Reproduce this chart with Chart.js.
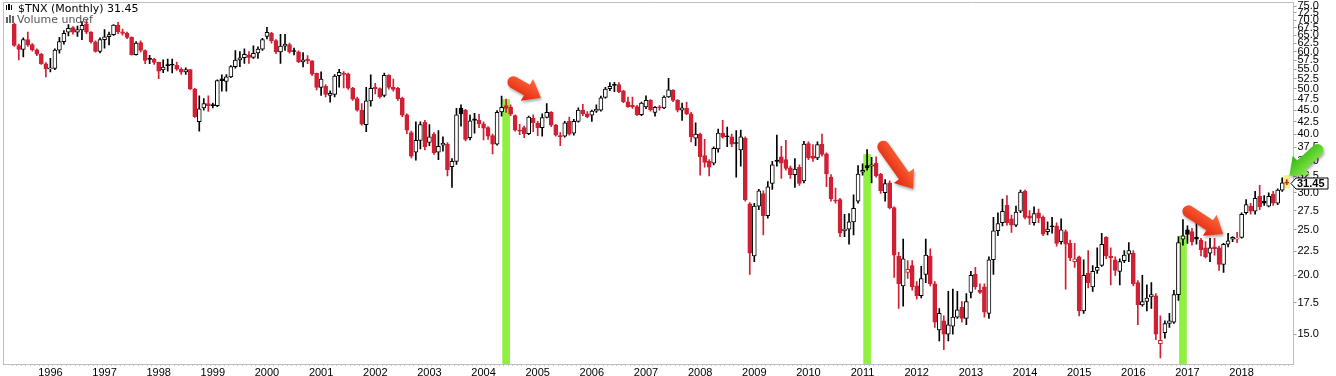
<!DOCTYPE html>
<html>
<head>
<meta charset="utf-8">
<script src="https://cdn.jsdelivr.net/npm/chart.js@4.4.0/dist/chart.umd.min.js"></script>
<style>
  html, body { margin: 0; padding: 0; background: #fff; }
  #wrap { width: 1336px; height: 376px; }
</style>
</head>
<body>
<div id="wrap"><canvas id="myChart"></canvas></div>
<script>
// $TNX monthly candles, May 1995 .. Nov 2018 (yield x10)
const startYear = 1995;
const startMonth = 4; // May

const opens = [
  68.6, 61.8, 60.6, 63.6, 62.1, 60.5, 59.2, 56.5,
  55.1, 55.2, 60.4, 63.0, 66.0, 67.5, 66.0, 66.7, 68.7, 66.0, 62.9, 60.0,
  63.6, 64.5, 65.2, 68.3, 66.1, 65.6, 64.3, 59.1, 62.7, 60.3, 58.0, 57.8,
  56.9, 54.8, 56.3, 56.2, 56.1, 55.0, 54.3, 54.9, 49.9, 42.5, 45.5, 46.5,
  46.2, 46.0, 52.5, 51.8, 53.0, 55.7, 57.6, 58.2, 59.0, 58.3, 59.6, 60.7,
  64.6, 65.6, 63.3, 59.9, 61.6, 62.1, 60.1, 59.9, 57.0, 57.8, 57.3, 53.9,
  50.3, 50.6, 48.4, 48.6, 53.3, 54.0, 53.8, 50.1, 47.6, 45.0, 41.9, 47.1,
  50.4, 50.0, 48.4, 53.4, 50.3, 50.1, 47.7, 44.0, 40.3, 36.6, 38.8, 42.4,
  38.4, 40.0, 36.6, 37.9, 38.1, 34.1, 35.0, 45.4, 45.0, 39.3, 43.1, 42.8,
  42.1, 41.3, 39.7, 38.1, 44.6, 46.0, 45.6, 43.8, 40.8, 41.3, 40.1, 43.3,
  42.2, 41.3, 43.4, 44.5, 41.8, 39.7, 39.6, 42.6, 40.2, 42.6, 45.0, 44.2,
  43.9, 44.8, 45.0, 47.9, 50.0, 50.9, 51.0, 49.5, 46.9, 46.1, 45.8, 44.0,
  45.7, 47.2, 44.5, 45.7, 45.5, 48.0, 49.6, 47.2, 45.0, 45.4, 44.2, 39.2,
  40.0, 36.0, 35.0, 34.7, 37.2, 40.2, 39.6, 39.5, 38.3, 37.0, 39.2, 28.4,
  22.0, 28.1, 29.9, 26.8, 31.4, 35.2, 35.8, 35.3, 33.9, 32.8, 34.0, 31.8,
  38.2, 35.9, 35.6, 38.1, 36.3, 32.4, 28.9, 29.0, 24.9, 25.1, 26.0, 28.8,
  33.2, 34.3, 34.2, 34.7, 32.9, 30.0, 31.5, 27.9, 22.0, 19.0, 20.3, 21.0,
  19.0, 18.1, 20.1, 22.0, 19.2, 15.3, 16.0, 15.0, 15.6, 16.3, 17.1, 16.2,
  18.4, 20.1, 18.6, 18.9, 16.6, 21.6, 24.9, 25.9, 28.2, 26.4, 25.6, 27.4,
  30.2, 26.8, 25.9, 27.2, 26.6, 24.8, 25.5, 25.5, 23.6, 24.8, 23.4, 21.4,
  21.9, 16.8, 20.2, 18.9, 20.5, 21.0, 24.1, 22.0, 21.6, 20.4, 21.5, 22.2,
  22.3, 19.3, 17.3, 17.6, 18.0, 18.1, 14.3, 15.1, 15.8, 15.9, 18.2, 23.9,
  25.0, 24.8, 24.1, 23.8, 22.9, 22.3, 23.0, 22.9, 21.1, 23.3, 23.9, 23.9,
  24.1, 27.2, 28.1, 27.4, 29.5, 28.8, 28.1, 29.8, 28.5, 30.4, 31.6
];
const highs = [
  69.0, 62.2, 64.2, 66.0, 62.4, 60.8, 59.5, 56.8,
  58.0, 60.8, 64.3, 66.5, 68.5, 67.8, 68.0, 69.5, 70.0, 66.2, 63.2, 64.2,
  66.8, 66.0, 68.5, 69.2, 67.0, 66.0, 64.5, 63.0, 63.2, 60.5, 58.9, 58.0,
  57.0, 57.6, 57.8, 57.8, 57.0, 55.4, 55.4, 55.0, 50.1, 48.3, 47.6, 48.3,
  46.6, 52.2, 53.5, 53.6, 56.0, 60.3, 60.0, 60.8, 60.0, 61.7, 61.4, 64.0,
  67.6, 65.9, 63.6, 65.3, 65.3, 62.5, 61.0, 60.2, 59.7, 58.8, 57.4, 54.0,
  54.3, 51.0, 49.5, 53.6, 55.0, 54.4, 54.0, 50.3, 48.0, 46.5, 50.3, 53.5,
  51.3, 50.2, 54.0, 53.6, 52.4, 50.3, 48.0, 44.2, 40.6, 42.5, 42.5, 42.8,
  41.9, 40.3, 40.7, 39.5, 38.4, 35.5, 45.4, 46.2, 45.2, 43.9, 44.3, 44.1,
  42.5, 41.5, 40.0, 44.9, 48.2, 47.5, 46.2, 44.0, 42.0, 41.6, 43.7, 44.0,
  42.6, 44.2, 46.5, 44.7, 42.0, 40.3, 42.6, 43.5, 43.0, 45.5, 46.3, 44.7,
  45.0, 46.2, 48.2, 50.3, 51.5, 51.6, 51.5, 49.6, 48.0, 48.0, 46.1, 46.8,
  48.3, 47.4, 45.8, 46.0, 48.3, 52.6, 49.8, 47.4, 46.6, 46.8, 44.5, 42.3,
  40.2, 39.0, 35.3, 37.6, 41.0, 42.8, 41.4, 40.0, 40.7, 40.8, 39.5, 28.6,
  28.5, 30.5, 30.3, 31.7, 35.0, 39.8, 37.7, 38.8, 34.2, 35.5, 34.4, 38.6,
  38.5, 38.0, 38.5, 40.0, 36.5, 32.8, 30.7, 29.2, 27.0, 27.1, 29.7, 34.3,
  34.6, 37.1, 35.7, 35.8, 33.0, 32.0, 31.8, 28.0, 22.4, 23.9, 21.5, 21.5,
  19.4, 20.9, 23.9, 22.8, 19.4, 17.0, 16.4, 18.5, 18.7, 18.5, 17.6, 18.3,
  20.4, 20.8, 19.2, 19.2, 21.9, 26.6, 27.2, 29.1, 29.6, 26.9, 28.1, 30.4,
  30.4, 27.5, 28.0, 27.7, 26.8, 26.0, 26.6, 25.9, 26.4, 25.0, 23.8, 23.4,
  22.0, 21.6, 22.6, 21.0, 22.9, 24.6, 24.2, 22.9, 21.9, 21.7, 22.6, 23.5,
  22.6, 19.5, 20.0, 19.1, 19.3, 18.3, 16.4, 16.0, 16.6, 18.6, 24.2, 26.3,
  25.5, 25.2, 26.3, 24.0, 23.6, 24.0, 24.0, 23.1, 23.4, 24.6, 24.2, 24.7,
  27.2, 29.0, 28.5, 30.2, 31.1, 29.6, 30.0, 30.2, 30.6, 32.3, 32.0
];
const lows = [
  61.5, 57.6, 58.4, 61.5, 60.1, 58.8, 56.3, 53.0,
  54.3, 54.9, 59.5, 62.2, 64.8, 65.3, 64.6, 63.6, 65.5, 62.5, 59.8, 59.6,
  61.0, 62.0, 64.9, 65.5, 65.0, 63.9, 58.9, 58.9, 59.8, 56.5, 56.5, 56.3,
  52.5, 54.1, 54.5, 54.0, 54.7, 53.6, 53.6, 49.8, 43.4, 40.6, 45.0, 44.7,
  45.5, 45.8, 49.4, 49.4, 52.8, 55.3, 55.7, 56.6, 56.6, 58.0, 58.0, 60.3,
  63.8, 62.5, 59.4, 56.6, 60.3, 59.5, 59.0, 56.8, 55.6, 56.5, 53.3, 49.7,
  48.4, 48.0, 46.8, 48.0, 50.4, 50.2, 49.8, 47.2, 44.8, 41.8, 40.5, 45.9,
  48.7, 47.7, 48.0, 49.9, 49.4, 47.2, 43.6, 40.1, 35.6, 35.2, 37.2, 37.0,
  37.8, 36.2, 35.3, 36.8, 32.6, 30.8, 34.5, 41.6, 38.7, 38.9, 40.2, 41.3,
  38.9, 39.0, 36.3, 37.9, 43.7, 44.5, 43.8, 40.6, 39.9, 39.3, 39.9, 40.5,
  39.7, 39.6, 43.3, 41.5, 39.6, 37.8, 39.4, 39.8, 39.8, 42.4, 43.8, 43.3,
  42.6, 44.5, 44.8, 47.7, 49.5, 49.3, 49.0, 46.7, 45.6, 45.4, 43.8, 43.8,
  45.3, 44.8, 43.7, 45.0, 45.3, 47.9, 46.9, 44.6, 42.8, 44.0, 38.5, 37.8,
  32.7, 34.0, 32.6, 34.4, 36.6, 39.2, 37.6, 37.6, 32.4, 34.2, 28.8, 20.1,
  21.4, 27.6, 24.4, 26.5, 30.5, 34.2, 32.2, 33.5, 32.2, 30.8, 31.1, 31.5,
  35.3, 35.0, 35.3, 35.9, 30.9, 28.8, 28.5, 24.2, 24.2, 23.3, 24.4, 28.5,
  32.7, 33.5, 31.5, 32.4, 29.9, 28.8, 27.7, 19.8, 17.0, 17.2, 19.7, 18.6,
  17.8, 17.9, 19.3, 19.0, 15.5, 14.5, 13.9, 14.5, 15.0, 16.2, 15.9, 15.7,
  17.9, 18.7, 18.3, 16.3, 16.2, 20.1, 24.3, 25.5, 25.6, 24.7, 25.4, 27.2,
  26.4, 25.7, 25.6, 25.9, 24.3, 24.4, 24.6, 23.1, 23.3, 18.7, 21.5, 20.8,
  16.4, 16.6, 18.8, 18.5, 20.2, 20.9, 21.7, 19.1, 20.0, 19.1, 21.3, 21.4,
  19.0, 15.7, 17.2, 16.8, 17.0, 14.6, 13.35, 14.7, 15.5, 15.8, 17.7, 23.2,
  23.4, 23.2, 23.3, 22.0, 21.8, 21.4, 22.1, 20.5, 20.3, 23.0, 23.6, 23.5,
  24.0, 27.0, 27.0, 27.0, 27.6, 28.2, 28.0, 28.2, 28.3, 30.2, 31.2
];
const closes = [
  61.8, 60.6, 63.6, 62.0, 60.5, 59.2, 56.5, 55.1,
  55.2, 60.4, 63.0, 65.6, 67.2, 66.0, 66.8, 68.2, 66.0, 62.9, 60.0, 63.6,
  64.5, 65.2, 68.3, 66.1, 65.6, 64.3, 59.1, 62.5, 60.3, 57.4, 57.7, 56.9,
  54.5, 55.6, 56.0, 56.1, 55.0, 54.2, 54.9, 49.9, 43.6, 45.3, 46.5, 46.0,
  46.0, 52.0, 52.0, 53.0, 55.7, 57.5, 58.2, 59.2, 58.3, 59.5, 60.7, 63.6,
  65.9, 63.3, 59.9, 61.6, 62.2, 59.9, 60.0, 57.0, 57.6, 57.3, 53.7, 50.3,
  52.4, 48.6, 48.9, 53.2, 54.2, 53.6, 50.1, 47.5, 45.0, 42.0, 47.1, 50.1,
  50.0, 48.1, 53.4, 50.3, 49.8, 47.6, 43.9, 40.8, 35.9, 38.8, 41.9, 37.6,
  39.5, 36.5, 37.7, 38.3, 33.6, 35.0, 44.0, 44.2, 39.0, 42.7, 42.8, 42.1,
  41.2, 39.6, 38.1, 44.5, 45.6, 45.4, 44.1, 40.8, 40.6, 40.1, 43.5, 42.3,
  41.3, 43.4, 44.5, 41.8, 39.8, 39.5, 42.3, 40.0, 42.6, 45.0, 44.2, 43.6,
  44.8, 45.2, 47.8, 49.9, 50.6, 50.8, 49.3, 46.9, 45.8, 45.7, 44.0, 46.6,
  47.2, 45.1, 45.6, 45.5, 48.0, 49.7, 47.2, 45.0, 45.5, 44.2, 39.5, 40.0,
  35.8, 34.8, 34.0, 37.3, 40.2, 39.4, 39.5, 38.1, 38.2, 39.5, 29.0, 22.3,
  28.1, 30.3, 26.8, 30.9, 34.4, 35.0, 34.7, 33.8, 32.8, 33.7, 31.4, 38.1,
  35.6, 35.5, 38.0, 36.2, 32.9, 29.1, 28.8, 24.6, 25.1, 26.0, 27.8, 32.9,
  33.5, 33.9, 34.4, 32.6, 30.3, 31.4, 27.9, 22.1, 19.2, 21.7, 20.6, 18.9,
  18.1, 19.7, 22.1, 19.2, 15.9, 16.6, 15.0, 15.7, 16.3, 16.9, 16.2, 17.6,
  20.0, 18.9, 18.4, 16.7, 21.6, 24.9, 25.8, 27.4, 25.9, 25.6, 27.3, 30.1,
  26.6, 26.5, 27.1, 26.5, 24.5, 25.1, 25.4, 23.4, 25.0, 23.3, 21.8, 21.7,
  16.8, 20.0, 19.3, 20.4, 20.8, 23.3, 22.0, 21.8, 20.5, 21.4, 22.1, 22.6,
  19.2, 17.3, 17.6, 17.9, 18.2, 15.0, 14.55, 15.8, 16.0, 18.2, 23.5, 24.3,
  24.45, 23.6, 23.9, 22.7, 21.9, 22.9, 22.8, 21.1, 23.3, 23.7, 24.1, 24.0,
  27.0, 28.3, 27.4, 29.2, 28.0, 28.5, 29.5, 28.5, 30.4, 31.5, 31.45
];

// green highlight columns: month index and top value
const highlightIdx = [109, 189, 259];
const highlightTop = [47.4, 36.2, 24.3];

// annotation arrows in (month index, value)
const arrowFrom = [[110.6, 51.6], [192.6, 37.6], [260.2, 27.4], [288.8, 37.0]];
const arrowTo = [[116.7, 47.8], [199.2, 30.6], [267.9, 24.5], [282.6, 32.6]];
const arrowKind = ['red', 'red', 'red', 'green'];

const yTicks = [15, 17.5, 20, 22.5, 25, 27.5, 30, 32.5, 35, 37.5, 40, 42.5, 45, 47.5,
  50, 52.5, 55, 57.5, 60, 62.5, 65, 67.5, 70, 72.5, 75];
const yMin = 12.95, yMax = 76.5;

const RED = '#d11f33';
const lastIdx = closes.length - 1;

function isUp(i) {
  return i === 0 ? closes[i] >= opens[i] : closes[i] >= closes[i - 1];
}
const candleCol = closes.map((c, i) => isUp(i) ? '#000000' : RED);
const bodyFill = closes.map((c, i) => c > opens[i] ? '#ffffff' : candleCol[i]);

const wickData = closes.map((c, i) => ({ x: i, y: [lows[i], highs[i]] }));
const bodyData = closes.map((c, i) => ({ x: i, y: [Math.min(opens[i], c), Math.max(opens[i], c)] }));
const greenData = highlightIdx.map((x, k) => ({ x: x, y: [yMin, highlightTop[k]] }));
const lastBox = [{ x: lastIdx, y: [lows[lastIdx] * 0.985, highs[lastIdx] * 1.02] }];

function monthLabel(i) {
  const m = startMonth + i;
  return m % 12 === 0 ? String(startYear + m / 12) : '';
}

function drawArrow(ctx, x1, y1, x2, y2, light, dark) {
  const ang = Math.atan2(y2 - y1, x2 - x1);
  const len = Math.hypot(x2 - x1, y2 - y1);
  const w = 6, hw = 12.5, hl = 16;
  ctx.save();
  ctx.translate(x1, y1);
  ctx.rotate(ang);
  ctx.shadowColor = 'rgba(0,0,0,0.35)';
  ctx.shadowBlur = 3;
  ctx.shadowOffsetX = 1;
  ctx.shadowOffsetY = 2;
  ctx.beginPath();
  ctx.moveTo(0, -w);
  ctx.lineTo(len - hl, -w);
  ctx.lineTo(len - hl, -hw);
  ctx.lineTo(len, 0);
  ctx.lineTo(len - hl, hw);
  ctx.lineTo(len - hl, w);
  ctx.lineTo(0, w);
  ctx.arc(0, 0, w, Math.PI / 2, Math.PI * 1.5);
  ctx.closePath();
  const g = ctx.createLinearGradient(0, -hw, 0, hw);
  g.addColorStop(0, light);
  g.addColorStop(1, dark);
  ctx.fillStyle = g;
  ctx.fill();
  ctx.restore();
}

const framePlugin = {
  id: 'frame',
  beforeDatasetsDraw(chart) {
    const { ctx, chartArea: a } = chart;
    ctx.save();
    ctx.strokeStyle = '#bdbdbd';
    ctx.lineWidth = 1;
    ctx.beginPath();
    ctx.moveTo(Math.round(a.left) + 0.5, Math.round(a.bottom));
    ctx.lineTo(Math.round(a.left) + 0.5, Math.round(a.top) + 0.5);
    ctx.lineTo(Math.round(a.right), Math.round(a.top) + 0.5);
    ctx.stroke();
    ctx.restore();
  }
};

const notesPlugin = {
  id: 'notes',
  afterDraw(chart) {
    const { ctx } = chart;
    const xs = chart.scales.x, ys = chart.scales.y;
    arrowFrom.forEach((f, k) => {
      const t = arrowTo[k];
      const red = arrowKind[k] === 'red';
      drawArrow(ctx, xs.getPixelForValue(f[0]), ys.getPixelForValue(f[1]),
        xs.getPixelForValue(t[0]), ys.getPixelForValue(t[1]),
        red ? '#ff6b3d' : '#8ef04a', red ? '#e0220a' : '#2fb414');
    });

    // header text
    ctx.save();
    ctx.fillStyle = '#000';
    ctx.fillRect(6, 5, 1, 5); ctx.fillRect(8, 4, 2, 6); ctx.fillRect(11, 5, 1, 5);
    ctx.font = '11px "DejaVu Sans"';
    ctx.textBaseline = 'alphabetic';
    ctx.fillText('$TNX (Monthly) ' + closes[lastIdx].toFixed(2), 18, 12);
    ctx.fillStyle = '#666';
    ctx.fillRect(6, 17, 2, 6); ctx.fillRect(9, 15, 2, 8); ctx.fillRect(12, 16, 2, 7);
    ctx.fillStyle = '#555';
    ctx.fillText('Volume undef', 17, 23);

    // last value tag
    const y = Math.round(ys.getPixelForValue(closes[lastIdx])) + 0.5;
    const x0 = Math.round(chart.chartArea.right) - 3;
    ctx.beginPath();
    ctx.moveTo(x0, y);
    ctx.lineTo(x0 + 5, y - 5.5);
    ctx.lineTo(x0 + 37, y - 5.5);
    ctx.lineTo(x0 + 37, y + 5.5);
    ctx.lineTo(x0 + 5, y + 5.5);
    ctx.closePath();
    ctx.fillStyle = '#fff';
    ctx.fill();
    ctx.strokeStyle = '#000';
    ctx.lineWidth = 1;
    ctx.stroke();
    ctx.fillStyle = '#000';
    ctx.font = 'bold 11px "Liberation Sans"';
    ctx.textBaseline = 'middle';
    ctx.fillText(closes[lastIdx].toFixed(2), x0 + 6, y + 0.5);
    ctx.restore();
  }
};

document.addEventListener('DOMContentLoaded', function () {
  const ctx = document.getElementById('myChart').getContext('2d');

  const config = {
    type: 'bar',
    data: {
      datasets: [
        {
          label: 'highlight',
          data: greenData,
          backgroundColor: '#8ff03f',
          barThickness: 7,
          order: 5
        },
        {
          label: 'last',
          data: lastBox,
          backgroundColor: '#f7f27c',
          barThickness: 6,
          order: 4
        },
        {
          label: 'wick',
          data: wickData,
          backgroundColor: candleCol,
          barThickness: 1,
          order: 2
        },
        {
          label: 'body',
          data: bodyData,
          backgroundColor: bodyFill,
          borderColor: candleCol,
          borderWidth: 1,
          borderSkipped: false,
          barThickness: 4,
          minBarLength: 1,
          order: 1
        }
      ]
    },
    options: {
      responsive: true,
      maintainAspectRatio: false,
      animation: false,
      datasets: { bar: { grouped: false } },
      layout: { padding: { left: 3, top: 2, right: 0, bottom: 0 } },
      plugins: {
        legend: { display: false },
        tooltip: { enabled: false }
      },
      scales: {
        x: {
          type: 'linear',
          min: -2.5,
          max: lastIdx + 1.5,
          offset: false,
          afterBuildTicks: function (scale) {
            scale.ticks = closes.map((c, i) => ({ value: i }));
          },
          afterFit: function (scale) {
            scale.height = 12;
            scale.paddingLeft = 0;
            scale.paddingRight = 0;
          },
          grid: { drawOnChartArea: false, tickLength: 2, color: '#c4c4c4' },
          border: { color: '#bdbdbd' },
          ticks: {
            autoSkip: false,
            maxRotation: 0,
            padding: 0,
            color: '#000',
            font: { family: 'Liberation Sans', size: 11 },
            callback: function (v) { return monthLabel(v); }
          }
        },
        y: {
          type: 'logarithmic',
          position: 'right',
          min: yMin,
          max: yMax,
          afterBuildTicks: function (scale) {
            scale.ticks = yTicks.map(v => ({ value: v }));
          },
          afterFit: function (scale) {
            scale.width = 42.5;
            scale.paddingTop = 0;
            scale.paddingBottom = 0;
          },
          grid: { drawOnChartArea: false, tickLength: 3, color: '#9a9a9a' },
          border: { color: '#bdbdbd' },
          ticks: {
            autoSkip: false,
            padding: 1,
            color: '#000',
            font: { family: 'Liberation Sans', size: 11 },
            callback: function (v) { return Number(v).toFixed(1); }
          }
        }
      }
    },
    plugins: [framePlugin, notesPlugin]
  };

  new Chart(ctx, config);
});
</script>
</body>
</html>
